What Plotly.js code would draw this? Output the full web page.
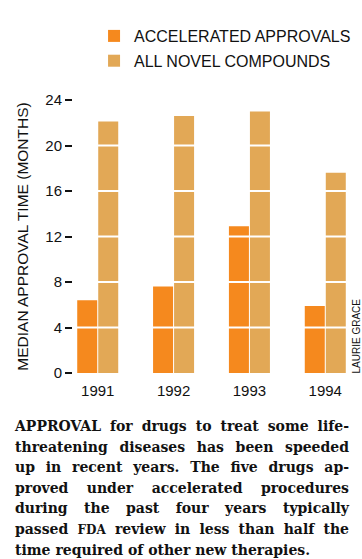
<!DOCTYPE html>
<html>
<head>
<meta charset="utf-8">
<script src="https://cdn.plot.ly/plotly-3.0.1.min.js"></script>
<style>
  html, body { margin: 0; padding: 0; background: #fff; }
  #wrap { position: relative; width: 362px; height: 559px; overflow: hidden; }
  #chart { position: absolute; left: 0; top: 0; width: 362px; height: 559px; }
  #caption {
    position: absolute; left: 15px; top: 416px; width: 334px;
    font-family: "DejaVu Serif", "Liberation Serif", serif;
    font-weight: bold; font-size: 14px; line-height: 20.5px; color: #111;
  }
  #caption .ln { text-align: justify; text-align-last: justify; white-space: nowrap; }
  #caption .last { text-align: left; text-align-last: left; white-space: nowrap; }
  .sc { font-size: 12px; }
</style>
</head>
<body>
<div id="wrap">
  <div id="chart"></div>
  <div id="caption">
    <div class="ln">APPROVAL for drugs to treat some life-</div>
    <div class="ln">threatening diseases has been speeded</div>
    <div class="ln">up in recent years. The five drugs ap-</div>
    <div class="ln">proved under accelerated procedures</div>
    <div class="ln">during the past four years typically</div>
    <div class="ln">passed <span class="sc">FDA</span> review in less than half the</div>
    <div class="last">time required of other new therapies.</div>
  </div>
</div>
<script>
const years = ['1991', '1992', '1993', '1994'];
const accelerated = [6.4, 7.6, 12.9, 5.9];
const allNovel = [22.1, 22.6, 23.0, 17.6];
const seriesNames = ['ACCELERATED APPROVALS', 'ALL NOVEL COMPOUNDS'];
const yTicks = [0, 4, 8, 12, 16, 20, 24];
const gridValues = [4, 8, 12, 16, 20];

const orange = 'rgb(245,137,30)';
const tan = 'rgb(226,168,86)';
const sans = '"Liberation Sans", Arial, Helvetica, sans-serif';

const traces = [
  { type: 'bar', x: years, y: accelerated, name: seriesNames[0],
    marker: { color: orange }, legendgroup: 'a', hoverinfo: 'x+y' },
  { type: 'bar', x: years, y: allNovel, name: seriesNames[1],
    marker: { color: tan }, legendgroup: 'b', hoverinfo: 'x+y' }
];

const shapes = gridValues.map(v => ({
  type: 'line', xref: 'paper', yref: 'y', x0: 0, x1: 1, y0: v, y1: v,
  line: { color: '#ffffff', width: 2 }, layer: 'above'
}));

const layout = {
  width: 362, height: 559,
  margin: { l: 73, r: 12.2, t: 100, b: 186.3 },
  paper_bgcolor: '#ffffff', plot_bgcolor: '#ffffff',
  font: { family: sans, color: '#111111', size: 15 },
  barmode: 'group', bargap: 0.446, bargroupgap: 0.048,
  showlegend: true,
  legend: {
    x: 0.076, xanchor: 'left', yref: 'container', y: 0.966, yanchor: 'top',
    font: { family: sans, size: 16, color: '#111111' },
    tracegroupgap: 1, bgcolor: 'rgba(0,0,0,0)', borderwidth: 0
  },
  xaxis: {
    type: 'category', range: [-0.326, 3.326], fixedrange: true,
    showgrid: false, zeroline: false, showline: false, ticks: '',
    ticklabelstandoff: 7,
    tickfont: { family: sans, size: 15, color: '#111111' }
  },
  yaxis: {
    range: [0, 24], tickvals: yTicks, ticktext: yTicks.map(String), fixedrange: true,
    showgrid: false, zeroline: false, showline: false,
    ticks: 'outside', ticklen: 7, tickwidth: 2, tickcolor: '#111111',
    tickfont: { family: sans, size: 15, color: '#111111' },
    title: { text: 'MEDIAN APPROVAL TIME (MONTHS)', standoff: 12, font: { family: sans, size: 15.5, color: '#111111' } }
  },
  shapes: shapes,
  annotations: [{
    text: 'LAURIE GRACE', xref: 'paper', yref: 'paper', x: 1.024, y: 0.136,
    textangle: -90, showarrow: false, xanchor: 'center', yanchor: 'middle',
    font: { family: sans, size: 10, color: '#111111' }
  }]
};

Plotly.newPlot('chart', traces, layout, { displayModeBar: false, staticPlot: true });
</script>
</body>
</html>
